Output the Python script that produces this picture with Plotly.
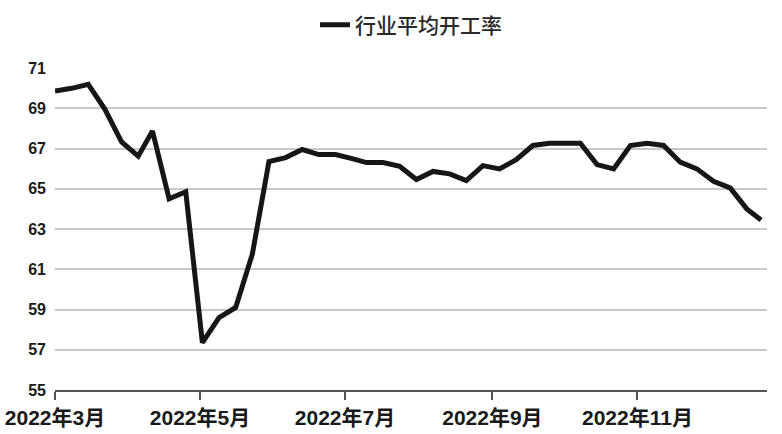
import plotly.graph_objects as go

# weekly readings, Mar-Dec 2022
dates = [
    "2022-03-01", "2022-03-08", "2022-03-15", "2022-03-22", "2022-03-29",
    "2022-04-05", "2022-04-11", "2022-04-18", "2022-04-25", "2022-05-02",
    "2022-05-09", "2022-05-16", "2022-05-23", "2022-05-30", "2022-06-06",
    "2022-06-13", "2022-06-20", "2022-06-27", "2022-07-04", "2022-07-10",
    "2022-07-17", "2022-07-24", "2022-07-31", "2022-08-07", "2022-08-14",
    "2022-08-21", "2022-08-28", "2022-09-04", "2022-09-11", "2022-09-18",
    "2022-09-25", "2022-10-01", "2022-10-08", "2022-10-15", "2022-10-22",
    "2022-10-29", "2022-11-05", "2022-11-12", "2022-11-19", "2022-11-26",
    "2022-12-03", "2022-12-10", "2022-12-17", "2022-12-23",
]
rate = [
    69.86, 69.99, 70.19, 68.95, 67.33, 66.62, 67.87, 64.5, 64.85, 57.35,
    58.6, 59.1, 61.75, 66.35, 66.55, 66.95, 66.7, 66.7, 66.5, 66.3,
    66.3, 66.12, 65.46, 65.86, 65.74, 65.41, 66.15, 65.99, 66.44, 67.15,
    67.26, 67.26, 67.26, 66.2, 65.99, 67.15, 67.26, 67.15, 66.32, 65.99,
    65.37, 65.04, 64.0, 63.45,
]
tick_dates = ["2022-03-01", "2022-05-01", "2022-07-01", "2022-09-01", "2022-11-01"]
tick_text = ["2022年3月", "2022年5月", "2022年7月", "2022年9月", "2022年11月"]
y_ticks = [55, 57, 59, 61, 63, 65, 67, 69, 71]

fig = go.Figure()
fig.add_trace(go.Scatter(
    x=dates, y=rate, mode="lines", name="行业平均开工率",
    line=dict(color="#161616", width=5),
))

fig.update_layout(
    width=782, height=434,
    margin=dict(l=55, r=15, t=68, b=44, autoexpand=False),
    paper_bgcolor="white", plot_bgcolor="white",
    font=dict(family="Liberation Sans, Arial, Noto Sans CJK SC", color="#1a1a1a"),
    showlegend=True,
    legend=dict(
        orientation="h", x=0.5, xanchor="center",
        yref="container", y=0.942, yanchor="middle",
        font=dict(family="Noto Sans CJK SC", size=21, color="#2a2a2a", weight=500),
    ),
)
fig.update_xaxes(
    type="date", range=["2022-03-01", "2022-12-25 12:00"], automargin=False,
    tickvals=tick_dates, ticktext=tick_text,
    showgrid=False, showline=True, linecolor="#555555", linewidth=1.5,
    ticks="outside", ticklen=8, tickcolor="#555555", tickwidth=1.5,
    tickfont=dict(family="Liberation Sans Narrow, Liberation Sans, Noto Sans CJK SC",
                  size=21, weight="bold"),
)
fig.update_yaxes(
    range=[55, 71], tickvals=y_ticks, automargin=False,
    showgrid=True, gridcolor="#c8c8c8", gridwidth=1.5,
    zeroline=False, showline=False, ticks="", ticklabelstandoff=8,
    tickfont=dict(family="Liberation Sans, Arial", size=16, weight="bold"),
)

# drop the page's default body margin so the figure sits at the window corner
fig.write_html("out.html", config={"displayModeBar": False},
               post_script="document.body.style.margin='0';")
